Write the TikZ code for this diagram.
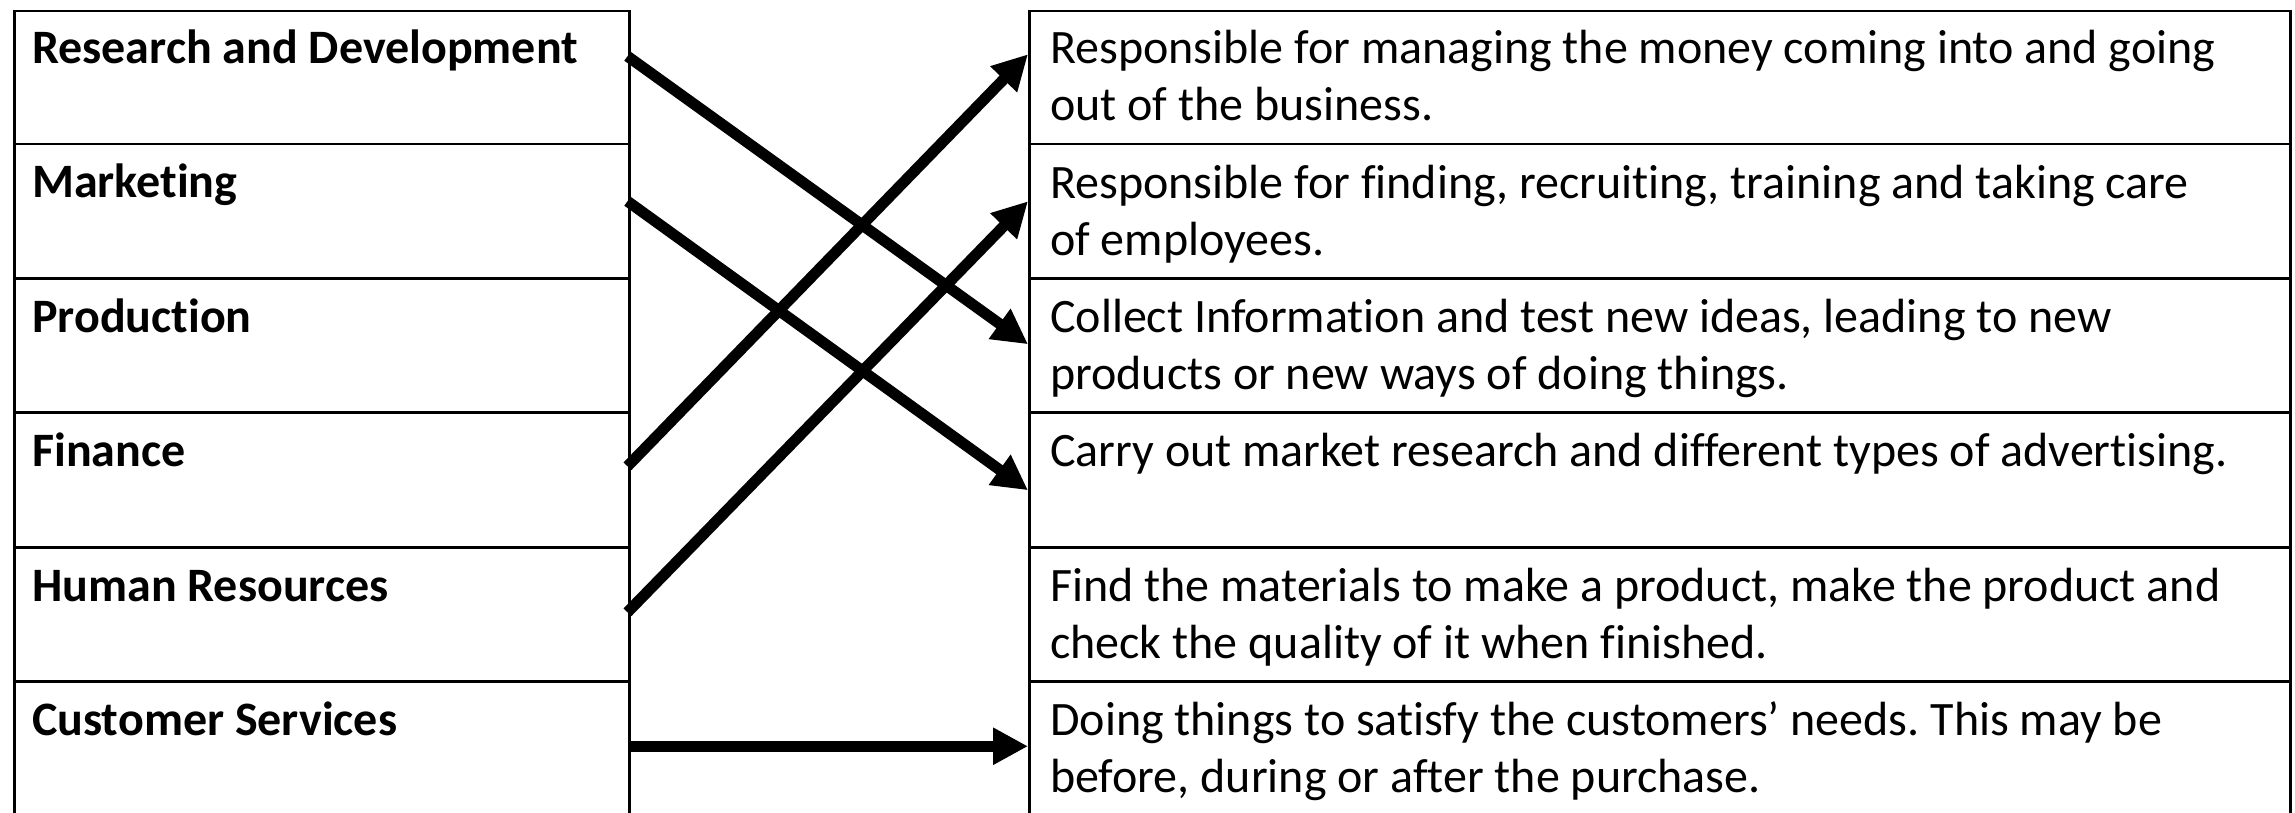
\documentclass[tikz,border=0pt]{standalone}
\usepackage{fontspec}
\setmainfont{Carlito}[Ligatures={NoCommon}]
\usetikzlibrary{arrows.meta}
\frenchspacing
\begin{document}
\begin{tikzpicture}[x=1pt,y=-1pt,
  cell/.style={draw, line width=2.5pt, rectangle, inner sep=0pt, anchor=north west},
  lcell/.style={cell, minimum width=615pt},
  rcell/.style={cell, minimum width=1261pt},
  lab/.style={anchor=base west, inner sep=0pt, font=\fontsize{48}{57}\selectfont\bfseries},
  desc/.style={anchor=base west, inner sep=0pt, align=left, font=\fontsize{48}{57}\selectfont\frenchspacing},
  conn/.style={line width=11pt, -{Triangle[length=35pt,width=35pt]}}]
\clip (0,0) rectangle (2295,813);
\fill[white] (0,0) rectangle (2295,813);
% left column cells
\node[lcell, minimum height=133pt] (L1) at (13,10) {};
\node[lcell, minimum height=134pt] (L2) at (13,143) {};
\node[lcell, minimum height=134pt] (L3) at (13,277) {};
\node[lcell, minimum height=135pt] (L4) at (13,411) {};
\node[lcell, minimum height=134pt] (L5) at (13,546) {};
\node[lcell, minimum height=150pt] (L6) at (13,680) {};
% right column cells
\node[rcell, minimum height=133pt] (R1) at (1028,10) {};
\node[rcell, minimum height=134pt] (R2) at (1028,143) {};
\node[rcell, minimum height=134pt] (R3) at (1028,277) {};
\node[rcell, minimum height=135pt] (R4) at (1028,411) {};
\node[rcell, minimum height=134pt] (R5) at (1028,546) {};
\node[rcell, minimum height=150pt] (R6) at (1028,680) {};
% left labels
\node[lab] (t1) at (32,64) {Research and Development};
\node[lab] (t2) at (32,198) {Marketing};
\node[lab] (t3) at (32,332) {Production};
\node[lab] (t4) at (32,466) {Finance};
\node[lab] (t5) at (32,601) {Human Resources};
\node[lab] (t6) at (32,735) {Customer Services};
% right descriptions (base anchor = last line baseline)
\node[desc] (d1) at (1050,121) {Responsible for managing the money coming into and going\\out of the business.};
\node[desc] (d2) at (1050,255) {Responsible for finding, recruiting, training and taking care\\of employees.};
\node[desc] (d3) at (1050,389) {Collect Information and test new ideas, leading to new\\products or new ways of doing things.};
\node[desc] (d4) at (1050,466) {Carry out market research and different types of advertising.};
\node[desc] (d5) at (1050,658) {Find the materials to make a product, make the product and\\check the quality of it when finished.};
\node[desc] (d6) at (1050,792) {Doing things to satisfy the customers’ needs. This may be\\before, during or after the purchase.};
% connectors
\draw[conn] ([xshift=-3pt,yshift=21.5pt]L1.east) -- ([yshift=1pt]R3.west);
\draw[conn] ([xshift=-3pt,yshift=10pt]L2.east) -- ([yshift=-10.5pt]R4.west);
\draw[conn] ([xshift=-3pt,yshift=13.5pt]L4.east) -- ([yshift=23.5pt]R1.west);
\draw[conn] ([xshift=-3pt,yshift=2pt]L5.east) -- ([yshift=10pt]R2.west);
\draw[conn] ([xshift=-3pt,yshift=10pt]L6.east) -- ([yshift=10pt]R6.west);
\end{tikzpicture}
\end{document}
